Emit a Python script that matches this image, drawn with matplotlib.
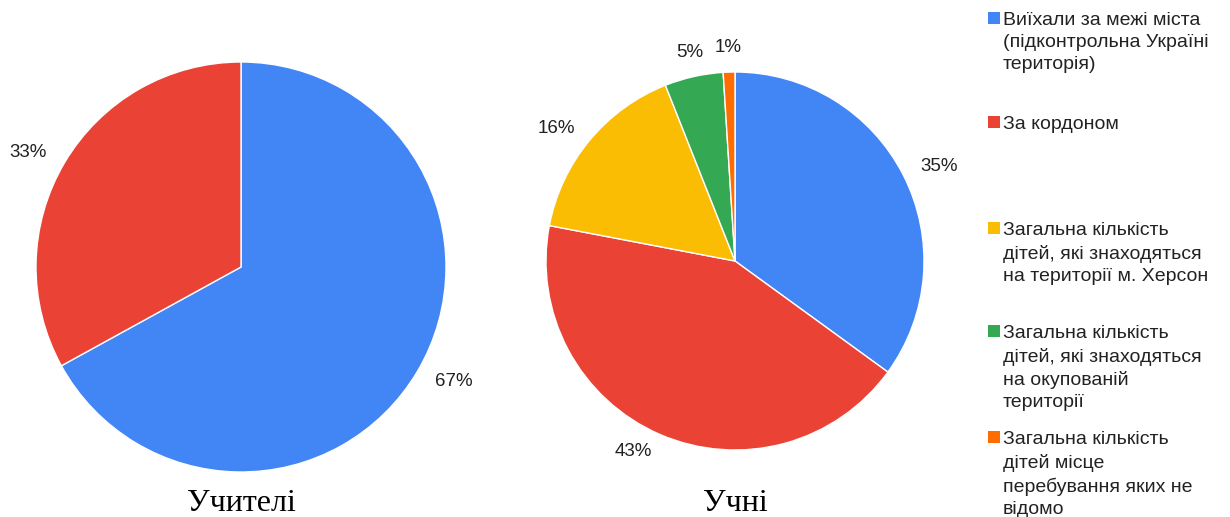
import numpy as np
import matplotlib
matplotlib.use("Agg")
import matplotlib.pyplot as plt
from matplotlib.patches import Rectangle

# ---- data ----
teacher_values = [67, 33]
teacher_colors = ["#4285F4", "#EA4335"]
student_values = [35, 43, 16, 5, 1]
student_colors = ["#4285F4", "#EA4335", "#FBBC04", "#34A853", "#FF6D01"]
titles = ["Учителі", "Учні"]
legend_labels = [
    "Виїхали за межі міста\n(підконтрольна Україні\nтериторія)",
    "За кордоном",
    "Загальна кількість\nдітей, які знаходяться\nна території м. Херсон",
    "Загальна кількість\nдітей, які знаходяться\nна окупованій\nтериторії",
    "Загальна кількість\nдітей місце\nперебування яких не\nвідомо",
]

W, H = 1230, 517
fig = plt.figure(figsize=(W / 100, H / 100), dpi=100)
ax = fig.add_axes([0, 0, 1, 1])

TXT = "#222222"
LABEL_FONT = ["Liberation Sans", "DejaVu Sans"]
SERIF_FONT = ["Liberation Serif", "DejaVu Serif"]


def draw_pie(values, colors, center, radius, title, title_y):
    wedges, _ = ax.pie(values, colors=colors, startangle=90, counterclock=False,
                       center=center, radius=radius,
                       wedgeprops=dict(edgecolor="white", linewidth=1))
    total = sum(values)
    for w, v in zip(wedges, values):
        ang = np.deg2rad((w.theta1 + w.theta2) / 2)
        c, s = np.cos(ang), np.sin(ang)
        d = 1.10 * radius
        x, y = center[0] + d * c, center[1] + d * s
        ha = "left" if c > 0.3 else ("right" if c < -0.3 else "center")
        if abs(c) <= 0.3:
            y += 0.03 * radius
        ax.text(x, y, f"{round(100 * v / total)}%", ha=ha, va="center",
                fontsize=13.5, color=TXT, family=LABEL_FONT)
    ax.text(center[0], title_y, title, ha="center", va="baseline",
            fontsize=23, color="black", family=SERIF_FONT)


draw_pie(teacher_values, teacher_colors, (241, H - 267), 205, titles[0], H - 511)
draw_pie(student_values, student_colors, (735, H - 261), 189, titles[1], H - 511)

# legend
centers = [18, 122, 228, 331, 437]
for lab, col, c in zip(legend_labels, student_colors, centers):
    ax.add_patch(Rectangle((988, H - c - 6), 12, 12, facecolor=col, edgecolor="none"))
    ax.text(1003, H - c + 6, lab, ha="left", va="top", fontsize=14, color=TXT,
            family=LABEL_FONT, linespacing=1.4)

ax.set_xlim(0, W)
ax.set_ylim(0, H)
ax.set_aspect("auto")
ax.axis("off")

fig.savefig("out.png", dpi=100)
